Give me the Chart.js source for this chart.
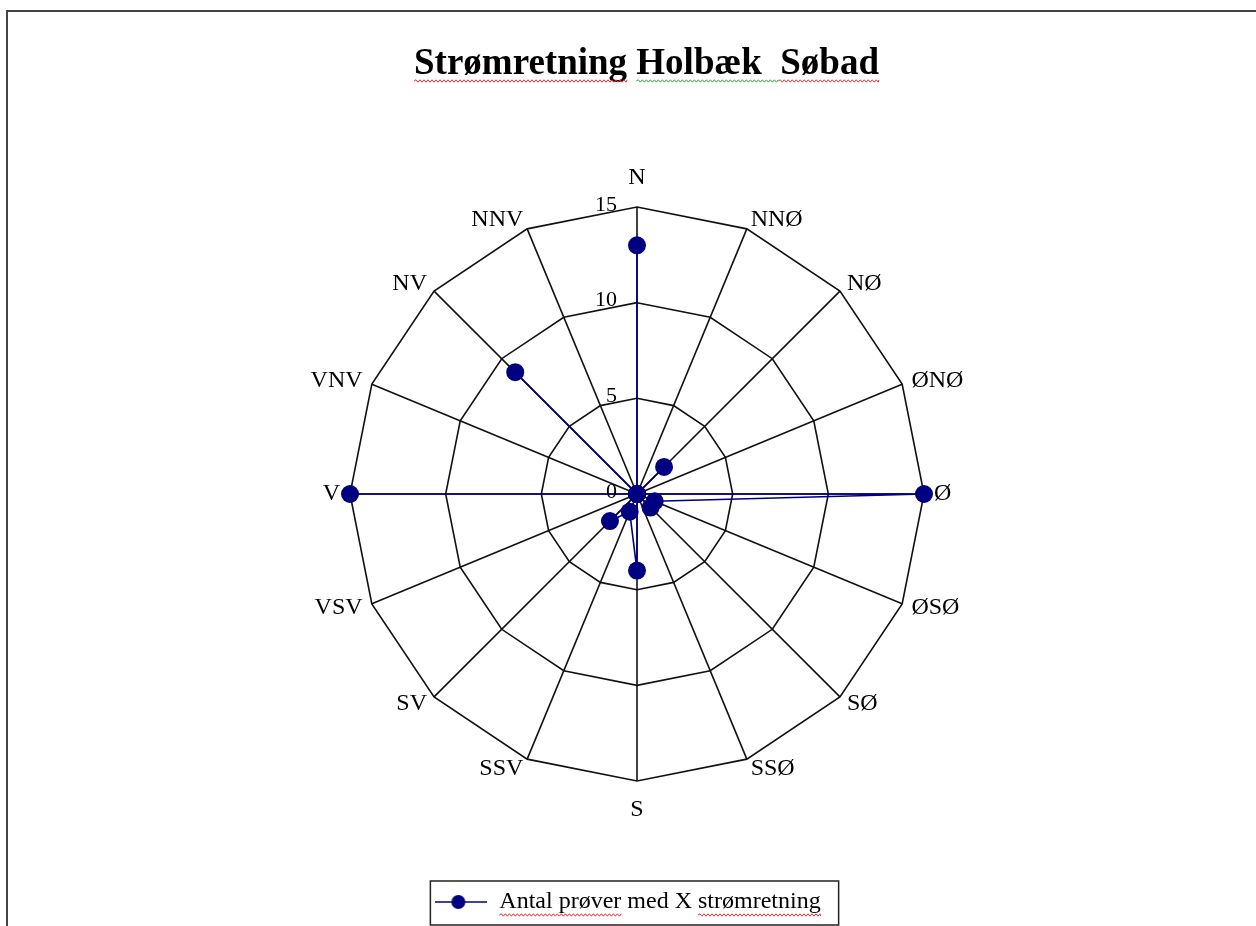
<!DOCTYPE html>
<html><head><meta charset="utf-8">
<script src="https://cdn.jsdelivr.net/npm/chart.js@4/dist/chart.umd.min.js"></script>
<style>html,body{margin:0;padding:0;background:#fff;overflow:hidden}</style>
</head><body>
<canvas id="c" width="1256" height="926" style="display:block;width:1256px;height:926px"></canvas>
<script>
const directions = ['N','NNØ','NØ','ØNØ','Ø','ØSØ','SØ','SSØ','S','SSV','SV','VSV','V','VNV','NV','NNV'];
const counts = [13,0,2,0,15,1,1,0,4,1,2,0,15,0,9,0];
const tickValues = [0,5,10,15];
const seriesName = 'Antal prøver med X strømretning';
const titleWords = ['Strømretning','Holbæk','Søbad'];
const titlePrefix = '\u2003';
const chartTitle = titlePrefix + titleWords[0] + ' ' + titleWords[1] + '  ' + titleWords[2];

const NAVY = '#000080';
const SERIF = "'Liberation Serif', 'Times New Roman', serif";
const TITLE_SIZE = 37;
const LABEL_SIZE = 24;

// legend icon: line with marker
const icon = document.createElement('canvas');
icon.width = 52; icon.height = 20;
(function(){
  const g = icon.getContext('2d');
  g.strokeStyle = NAVY; g.lineWidth = 1.5;
  g.beginPath(); g.moveTo(0,10); g.lineTo(52,10); g.stroke();
  g.fillStyle = NAVY; g.beginPath(); g.arc(23,10,7,0,Math.PI*2); g.fill();
})();

function wavy(ctx, x0, x1, y, color){
  ctx.save();
  ctx.strokeStyle = color; ctx.lineWidth = 1;
  ctx.beginPath();
  let up = true;
  ctx.moveTo(x0, y);
  for (let x = x0; x < x1; x += 2) {
    ctx.lineTo(Math.min(x+2, x1), y + (up ? -1.2 : 1.2));
    up = !up;
  }
  ctx.stroke();
  ctx.restore();
}

const framePlugin = {
  id: 'frame',
  beforeDraw(chart){
    const ctx = chart.ctx;
    ctx.save();
    ctx.fillStyle = '#fff';
    ctx.fillRect(0,0,chart.width,chart.height);
    ctx.strokeStyle = '#444'; ctx.lineWidth = 2;
    ctx.beginPath();
    ctx.moveTo(7, chart.height); ctx.lineTo(7, 11); ctx.lineTo(chart.width, 11);
    ctx.stroke();
    ctx.restore();
  },
  afterDraw(chart){
    const ctx = chart.ctx;
    const r = chart.scales.r;
    // tick labels
    ctx.save();
    ctx.font = '22px ' + SERIF;
    ctx.fillStyle = '#000';
    ctx.textAlign = 'right';
    ctx.textBaseline = 'middle';
    r.ticks.forEach(t => {
      const d = r.getDistanceFromCenterForValue(t.value);
      ctx.fillText(String(t.value), r.xCenter - 20, r.yCenter - d - 2);
    });
    ctx.restore();
    // title underlines
    const tb = chart.titleBlock;
    if (tb) {
      ctx.save();
      ctx.font = 'bold ' + TITLE_SIZE + 'px ' + SERIF;
      const cx = (tb.left + tb.right)/2;
      const w = ctx.measureText(chartTitle).width;
      const start = cx - w/2;
      const pre = ctx.measureText(titlePrefix).width;
      const w0 = ctx.measureText(titleWords[0]).width;
      const s1 = start + ctx.measureText(titlePrefix + titleWords[0] + ' ').width;
      const s2 = start + ctx.measureText(titlePrefix + titleWords[0] + ' ' + titleWords[1] + '  ').width;
      const w2 = ctx.measureText(titleWords[2]).width;
      ctx.restore();
      const y = 81;
      wavy(ctx, start + pre, start + pre + w0, y, '#e03030');
      wavy(ctx, s1, s2 - 2, y, '#30a030');
      wavy(ctx, s2 - 2, s2 + w2, y, '#e03030');
    }
    // legend frame
    const lg = chart.legend;
    if (lg && lg.legendHitBoxes && lg.legendHitBoxes.length) {
      const hb = lg.legendHitBoxes[0];
      const cy = hb.top + hb.height/2;
      ctx.save();
      ctx.strokeStyle = '#222'; ctx.lineWidth = 1.5;
      ctx.strokeRect(hb.left - 5, cy - 21, hb.width + 23, 44);
      ctx.font = LABEL_SIZE + 'px ' + SERIF;
      const tx = hb.left + 52 + LABEL_SIZE/2;
      const wa = ctx.measureText('Antal prøver').width;
      const ws = ctx.measureText('Antal prøver med X ').width;
      const wt = ctx.measureText(seriesName).width;
      ctx.restore();
      wavy(ctx, tx, tx + wa, cy + 13, '#e03030');
      wavy(ctx, tx + ws, tx + wt, cy + 13, '#e03030');
    }
  }
};

new Chart(document.getElementById('c'), {
  type: 'radar',
  data: {
    labels: directions,
    datasets: [{
      label: seriesName,
      data: counts,
      borderColor: NAVY,
      borderWidth: 1.6,
      backgroundColor: 'transparent',
      fill: false,
      tension: 0,
      pointRadius: 9,
      pointHoverRadius: 9,
      pointBackgroundColor: NAVY,
      pointBorderColor: NAVY,
      pointBorderWidth: 0
    }]
  },
  options: {
    responsive: false,
    devicePixelRatio: 1,
    animation: false,
    events: [],
    layout: { padding: { top: 0, bottom: 2, left: 0, right: 0 } },
    scales: {
      r: {
        min: tickValues[0],
        max: tickValues[tickValues.length-1],
        ticks: { stepSize: 5, display: false },
        grid: { circular: false, color: '#111', lineWidth: 1.6 },
        angleLines: { display: true, color: '#111', lineWidth: 1.6 },
        pointLabels: { font: { family: SERIF, size: LABEL_SIZE }, color: '#000', padding: 8 },
        afterFit(scale) {
          const cx = 637, cy = 494, rad = 287;
          scale.xCenter = cx; scale.yCenter = cy; scale.drawingArea = rad;
          (scale._pointLabelItems || []).forEach((it, i) => {
            const w = it.right - it.left, h = it.bottom - it.top;
            const deg = Math.round(scale.getIndexAngle(i) * 180 / Math.PI) % 360;
            let x, top, align;
            if (deg === 0) {
              const p = scale.getPointPosition(i, rad + 15);
              x = p.x; top = p.y - h; align = 'center';
            } else if (deg === 180) {
              const p = scale.getPointPosition(i, rad + 14);
              x = p.x; top = p.y; align = 'center';
            } else {
              const p = scale.getPointPosition(i, rad + 10);
              x = p.x; top = p.y - h/2; align = deg < 180 ? 'left' : 'right';
            }
            const left = align === 'left' ? x : align === 'right' ? x - w : x - w/2;
            it.x = x; it.y = top; it.textAlign = align;
            it.left = left; it.right = left + w; it.top = top; it.bottom = top + h;
          });
        }
      }
    },
    plugins: {
      title: {
        display: true,
        text: chartTitle,
        color: '#000',
        font: { family: SERIF, size: TITLE_SIZE, weight: 'bold' },
        padding: { top: 42, bottom: 10 }
      },
      legend: {
        position: 'bottom',
        labels: {
          usePointStyle: true,
          pointStyle: icon,
          pointStyleWidth: 52,
          color: '#000',
          font: { family: SERIF, size: LABEL_SIZE },
          padding: 10
        }
      },
      tooltip: { enabled: false }
    }
  },
  plugins: [framePlugin]
});
</script>
</body></html>
